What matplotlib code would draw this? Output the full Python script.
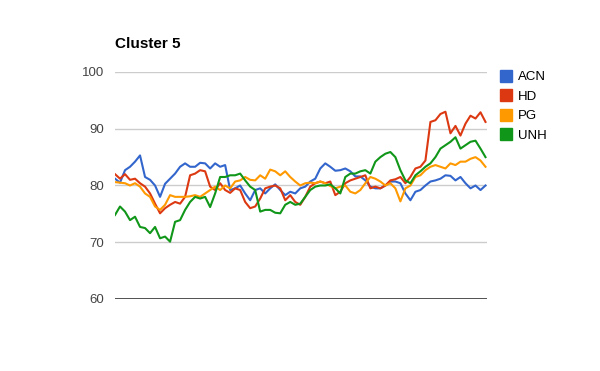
import numpy as np
import matplotlib
matplotlib.use('Agg')
import matplotlib.pyplot as plt
from matplotlib.lines import Line2D

plt.rcParams['font.family'] = ['Liberation Sans', 'DejaVu Sans']

# series values (equal steps along x)
acn = [81.2, 80.5, 82.7, 83.3, 84.2, 85.3, 81.5, 81, 80, 78, 80.3, 81.2, 82.1, 83.3, 83.9,
       83.3, 83.3, 84, 83.9, 83, 83.9, 83.3, 83.6, 79.2, 79.5, 80, 78.6, 77.4, 79.2, 79.5,
       78.6, 79.5, 80.2, 79.2, 78.3, 78.9, 78.6, 79.5, 79.8, 80.7, 81.2, 83, 83.9, 83.3, 82.6,
       82.7, 83, 82.5, 81.6, 81.6, 80.9, 79.8, 79.5, 79.5, 80, 80.7, 80.7, 80.4, 78.6, 77.4,
       78.9, 79.2, 80, 80.7, 80.9, 81.2, 81.8, 81.7, 80.9, 81.5, 80.4, 79.5, 80, 79.2, 80]
hd = [82, 81.2, 82, 81, 81.2, 80.4, 79.8, 78.6, 76.8, 75.1, 76, 76.6, 77.1, 76.8, 78,
      81.8, 82.1, 82.7, 82.5, 79.8, 79.2, 80.4, 79.2, 78.7, 79.5, 79.2, 77.1, 76, 76.3, 77.7,
      79.5, 79.8, 80, 79.5, 77.4, 78.3, 77.1, 76.6, 78, 79.8, 80.4, 80.7, 80.4, 80.7, 78.3,
      78.9, 80.4, 80.9, 81.2, 81.5, 81.8, 79.5, 79.8, 79.5, 80, 80.9, 81.1, 81.5, 80.4, 81.5,
      83, 83.3, 84.4, 91.2, 91.5, 92.6, 93.0, 89.2, 90.5, 88.8, 90.9, 92.3, 91.8, 92.9, 91.2]
pg = [80.6, 80.5, 80.4, 80, 80.4, 79.8, 78.6, 78, 76.3, 75.7, 76.6, 78.3, 78, 78, 78,
      78.1, 78.3, 78, 78.6, 79.2, 79.8, 79.2, 80, 79.5, 80.7, 80.9, 81.5, 81, 80.9, 81.8,
      81.2, 82.8, 82.5, 81.8, 82.5, 81.5, 80.7, 80, 80.4, 80.5, 80.4, 80.7, 80.4, 79.9, 79.5,
      79.8, 80, 78.9, 78.6, 79.2, 80.4, 81.5, 81.2, 80.7, 80, 80.4, 79.5, 77.2, 79.5, 80,
      81.5, 81.8, 82.7, 83.3, 83.6, 83.3, 83, 83.9, 83.6, 84.2, 84.2, 84.7, 85, 84.4, 83.3]
unh = [74.8, 76.3, 75.4, 73.9, 74.5, 72.7, 72.5, 71.6, 72.7, 70.7, 71, 70.1, 73.6, 73.9, 75.7,
       77.1, 78, 77.7, 78, 76.2, 78.6, 81.5, 81.5, 81.8, 81.8, 82.1, 80.9, 79.8, 79.2, 75.4,
       75.7, 75.7, 75.2, 75.1, 76.6, 77.1, 76.6, 76.8, 78, 79.2, 79.8, 80, 80, 80.2, 79.5,
       78.6, 81.5, 82.1, 82.1, 82.5, 82.7, 82.1, 84.2, 85, 85.6, 85.9, 85, 82.7, 80.9, 80.4,
       81.8, 82.5, 83.3, 83.9, 85, 86.5, 87.1, 87.7, 88.5, 86.5, 87.1, 87.7, 87.9, 86.5, 85]

names = ['ACN', 'HD', 'PG', 'UNH']
colors = ['#3366cc', '#dc3912', '#ff9900', '#109618']
yticks = [60, 70, 80, 90, 100]

fig = plt.figure(figsize=(6, 3.71), dpi=100)
ax = fig.add_axes([115/600, 1-299/371, 372/600, 227/371])

for vals, c, n in zip([acn, hd, pg, unh], colors, names):
    ax.plot(np.arange(len(vals)), vals, color=c, lw=1.5, label=n, solid_joinstyle='round')

ax.set_ylim(60, 100)
ax.set_xlim(0, len(acn) - 0.7)
ax.set_yticks(yticks)
ax.set_xticks([])
for t in yticks[1:]:
    ax.axhline(t, color='#cccccc', lw=1, zorder=0)
ax.axhline(60, color='#333333', lw=1.2, zorder=0)
for s in ax.spines.values():
    s.set_visible(False)
ax.tick_params(axis='y', length=0, pad=8, labelsize=9.5, labelcolor='#444444')

fig.text(115/600, 1-44/371, 'Cluster 5', fontsize=11, fontweight='bold', va='center')

handles = [Line2D([], [], marker='s', ls='none', markersize=9, color=c) for c in colors]
fig.legend(handles, names, loc='upper left', bbox_to_anchor=(499/600, 1-71/371),
           frameon=False, fontsize=9.5, handlelength=1.0, handletextpad=0.45,
           labelspacing=0.55, borderaxespad=0, borderpad=0)

fig.savefig('out.png', dpi=100)
